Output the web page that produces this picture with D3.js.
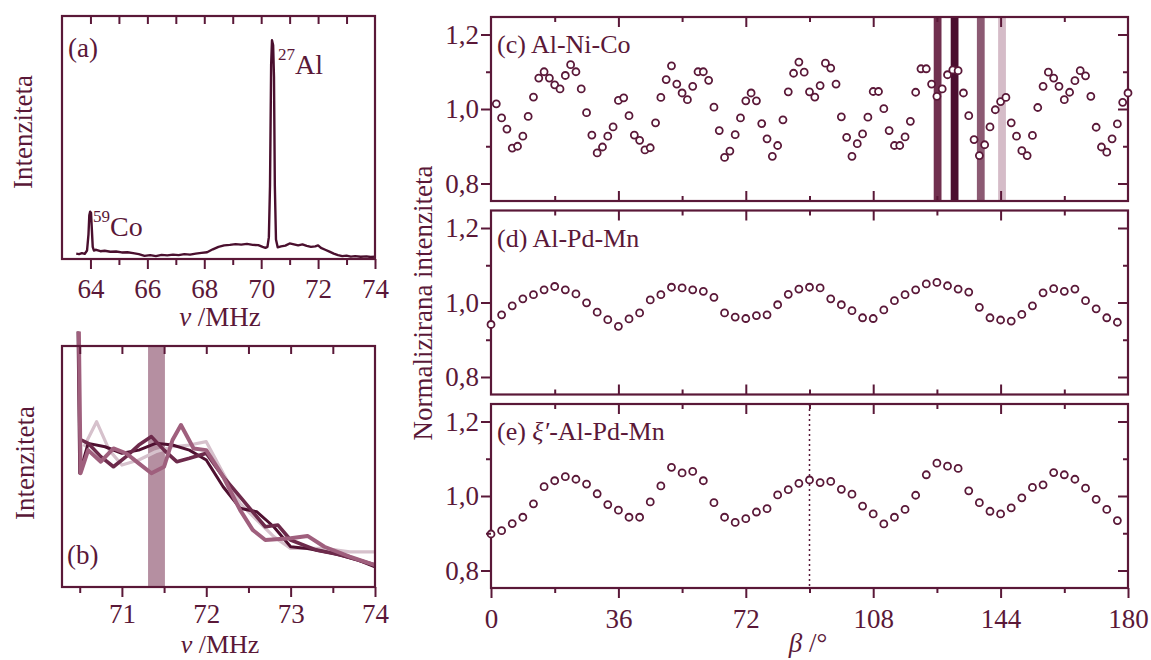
<!DOCTYPE html>
<html>
<head>
<meta charset="utf-8">
<script src="https://cdn.jsdelivr.net/npm/d3@7"></script>
<style>
body { margin: 0; background: #fff; }
text { font-family: "Liberation Serif", "Times New Roman", serif; fill: #5a1838; }
</style>
</head>
<body>
<svg id="fig" width="1151" height="660"></svg>
<script>
// ---- data ----

// (a) full spectrum, frequency in MHz / intensity (arb.)
var specFreq = [63.5,63.6,63.7,63.8,63.88,63.93,63.96,63.99,64.02,64.05,64.08,64.12,64.2,64.35,64.5,64.7,64.9,65.1,65.3,65.5,65.7,65.9,66.1,66.3,66.5,66.7,66.9,67.1,67.3,67.5,67.7,67.9,68.1,68.3,68.5,68.7,68.9,69.1,69.3,69.5,69.7,69.9,70.05,70.15,70.22,70.27,70.31,70.35,70.38,70.42,70.45,70.48,70.52,70.58,70.7,70.85,71.0,71.15,71.3,71.45,71.6,71.75,71.9,72.0,72.1,72.25,72.4,72.55,72.7,72.85,73.0,73.15,73.3,73.5,73.7,73.85,74.0];
var specInt = [0.022,0.020,0.024,0.021,0.035,0.10,0.18,0.195,0.19,0.12,0.05,0.035,0.038,0.032,0.034,0.030,0.031,0.027,0.028,0.024,0.020,0.013,0.016,0.012,0.017,0.015,0.018,0.016,0.020,0.018,0.022,0.025,0.028,0.040,0.050,0.056,0.058,0.061,0.059,0.062,0.058,0.057,0.050,0.046,0.05,0.09,0.30,0.80,0.90,0.88,0.75,0.30,0.08,0.048,0.052,0.055,0.064,0.060,0.056,0.060,0.054,0.050,0.052,0.056,0.046,0.038,0.030,0.022,0.016,0.012,0.014,0.010,0.012,0.009,0.011,0.008,0.010];

// (b) zoom of the Al line, four spectra [MHz, intensity]
var specB1 = [[70.55,0.582],[70.7,0.686],[70.85,0.568],[71.0,0.506],[71.2,0.527],[71.4,0.561],[71.6,0.582],[71.8,0.589],[72.0,0.603],[72.2,0.472],[72.4,0.347],[72.6,0.278],[72.8,0.209],[73.0,0.16],[73.4,0.16],[73.7,0.146],[74.0,0.146]];
var specB2 = [[70.48,1.06],[70.5,0.472],[70.6,0.596],[70.8,0.582],[71.0,0.555],[71.2,0.568],[71.4,0.596],[71.6,0.589],[71.8,0.568],[72.0,0.527],[72.2,0.416],[72.4,0.327],[72.6,0.312],[72.8,0.25],[73.0,0.167],[73.2,0.16],[73.5,0.14],[73.8,0.112],[74.0,0.084]];
var specB3 = [[70.52,0.61],[70.6,0.596],[70.75,0.541],[70.9,0.499],[71.05,0.541],[71.2,0.589],[71.35,0.624],[71.5,0.568],[71.65,0.52],[71.8,0.534],[72.0,0.555],[72.2,0.458],[72.4,0.375],[72.55,0.312],[72.7,0.25],[72.85,0.257],[73.0,0.195],[73.3,0.154],[73.6,0.133],[74.0,0.091]];
var specB4 = [[70.49,1.06],[70.51,0.472],[70.6,0.568],[70.75,0.52],[70.9,0.575],[71.05,0.555],[71.2,0.513],[71.35,0.472],[71.5,0.499],[71.6,0.61],[71.7,0.672],[71.85,0.575],[72.0,0.568],[72.2,0.458],[72.4,0.32],[72.55,0.237],[72.7,0.195],[73.0,0.202],[73.2,0.212],[73.4,0.167],[73.7,0.126],[74.0,0.091]];
var specBColors = ["#d6c1cc", "#4f1030", "#6d2a4b", "#9f5f7d"];
var specBWidths = [3.2, 3, 3.6, 4];
var bandB = [71.31, 71.51];

// (c) Al-Ni-Co
var betaC = [1.5,3,4.5,6,7.5,9,10.5,12,13.5,15,16.5,18,19.5,21,22.5,24,25.5,27,28.5,30,31.5,33,34.5,36,37.5,39,40.5,42,43.5,45,46.5,48,49.5,51,52.5,54,55.5,57,58.5,60,61.5,63,64.5,66,67.5,69,70.5,72,73.5,75,76.5,78,79.5,81,82.5,84,85.5,87,88.5,90,91.5,93,94.5,96,97.5,99,100.5,102,103.5,105,106.5,108,109.5,111,112.5,114,115.5,117,118.5,120,121.5,123,124.5,126,127.5,129,130.5,132,133.5,135,136.5,138,139.5,141,142.5,144,145.5,147,148.5,150,151.5,153,154.5,156,157.5,159,160.5,162,163.5,165,166.5,168,169.5,171,172.5,174,175.5,177,178.5,180];
var normC = [1.014,0.976,0.946,0.895,0.900,0.927,0.980,1.032,1.083,1.100,1.083,1.065,1.054,1.090,1.119,1.100,1.054,0.990,0.930,0.882,0.898,0.927,0.952,1.023,1.030,0.982,0.930,0.916,0.890,0.896,0.963,1.031,1.079,1.116,1.067,1.043,1.025,1.061,1.100,1.100,1.077,1.005,0.942,0.870,0.887,0.931,0.976,1.022,1.043,1.022,0.961,0.920,0.873,0.902,0.971,1.046,1.096,1.126,1.099,1.046,1.032,1.063,1.123,1.110,1.067,0.979,0.924,0.873,0.907,0.933,0.978,1.047,1.047,1.001,0.942,0.902,0.902,0.925,0.967,1.045,1.108,1.108,1.067,1.034,1.054,1.092,1.105,1.103,1.043,0.982,0.918,0.875,0.904,0.952,0.998,1.020,1.031,0.963,0.927,0.888,0.875,0.929,1.004,1.061,1.099,1.083,1.061,1.025,1.045,1.076,1.103,1.089,1.034,0.951,0.898,0.884,0.920,0.960,1.018,1.043];
var barCenters = [126.2, 131.0, 138.4, 144.4];
var barColors = ["#70304f", "#4b0e2f", "#8c5a73", "#d5bcc8"];
var barWidth = 2.2;

// (d) Al-Pd-Mn and (e) xi'-Al-Pd-Mn
var betaDE = [0,3,6,9,12,15,18,21,24,27,30,33,36,39,42,45,48,51,54,57,60,63,66,69,72,75,78,81,84,87,90,93,96,99,102,105,108,111,114,117,120,123,126,129,132,135,138,141,144,147,150,153,156,159,162,165,168,171,174,177];
var normD = [0.941,0.967,0.991,1.010,1.021,1.034,1.043,1.034,1.023,0.999,0.974,0.954,0.936,0.956,0.972,1.007,1.021,1.041,1.039,1.034,1.030,1.014,0.972,0.961,0.957,0.965,0.967,0.994,1.022,1.036,1.041,1.039,1.010,0.994,0.978,0.959,0.957,0.980,1.005,1.021,1.034,1.050,1.054,1.045,1.036,1.028,0.987,0.959,0.953,0.950,0.968,0.991,1.026,1.037,1.030,1.036,1.005,0.983,0.959,0.947];
var normE = [0.898,0.907,0.926,0.943,0.979,1.025,1.041,1.052,1.045,1.032,1.006,0.977,0.962,0.943,0.943,0.984,1.027,1.077,1.062,1.066,1.041,0.982,0.943,0.929,0.939,0.957,0.966,1.003,1.017,1.034,1.043,1.036,1.039,1.018,1.005,0.973,0.952,0.925,0.943,0.964,1.002,1.057,1.088,1.080,1.074,1.014,0.982,0.959,0.952,0.968,0.995,1.023,1.030,1.063,1.057,1.045,1.021,0.991,0.964,0.934];
var markBeta = 90;

// ---- drawing ----
var ink = "#5a1838";
var fs = 27;
var svg = d3.select("#fig");

function side(g, make, scale, vals, size, fmt, pad) {
	g.call(make(scale)
		.tickValues(vals)
		.tickSizeInner(size)
		.tickSizeOuter(0)
		.tickPadding(pad || 3)
		.tickFormat(fmt || function() { return ""; }));
	g.select(".domain").remove();
	g.attr("font-family", null).attr("font-size", fs);
	g.selectAll(".tick line").attr("stroke", ink).attr("stroke-width", 2);
	g.selectAll(".tick text").attr("fill", ink);
}

function frame(x0, y0, x1, y1) {
	svg.append("rect")
		.attr("x", x0).attr("y", y0)
		.attr("width", x1 - x0).attr("height", y1 - y0)
		.attr("fill", "none")
		.attr("stroke", ink)
		.attr("stroke-width", 2.2);
}

var fmtInt = function(d) { return d; };
var fmtComma = function(d) { return d.toFixed(1).replace(".", ","); };

function nuLabel(x, y, size) {
	var t = svg.append("text").attr("x", x).attr("y", y)
		.attr("text-anchor", "middle").attr("font-size", size);
	t.append("tspan").attr("font-style", "italic").text("ν");
	t.append("tspan").text(" /MHz");
}

function yLabel(x, y, txt) {
	svg.append("text")
		.attr("transform", "translate(" + x + "," + y + ") rotate(-90)")
		.attr("text-anchor", "middle")
		.attr("dy", "0.35em")
		.attr("font-size", fs)
		.text(txt);
}

// panel (a)
var xa = d3.scaleLinear().domain([63, 74]).range([62, 375]);
var ya = d3.scaleLinear().domain([0, 1]).range([259, 16]);

svg.append("path")
	.datum(d3.zip(specFreq, specInt))
	.attr("d", d3.line().x(function(d) { return xa(d[0]); }).y(function(d) { return ya(d[1]); }))
	.attr("fill", "none")
	.attr("stroke", "#4a0f2e")
	.attr("stroke-width", 2.4)
	.attr("stroke-linejoin", "round");

frame(62, 16, 375, 259);
side(svg.append("g").attr("transform", "translate(0,16)"), d3.axisTop, xa, [64,65,66,67,68,69,70,71,72,73], -8);
side(svg.append("g").attr("transform", "translate(0,259)"), d3.axisBottom, xa, [65,67,69,71,73], 6);
side(svg.append("g").attr("transform", "translate(0,259)"), d3.axisBottom, xa, [64,66,68,70,72,74], 10, fmtInt, 10);

svg.append("text").attr("x", 68).attr("y", 57).attr("font-size", 27).text("(a)");
var al = svg.append("text").attr("x", 278).attr("y", 74).attr("font-size", 28);
al.append("tspan").attr("font-size", 17).attr("dy", -14).text("27");
al.append("tspan").attr("dy", 14).text("Al");
var co = svg.append("text").attr("x", 93).attr("y", 236).attr("font-size", 28);
co.append("tspan").attr("font-size", 17).attr("dy", -14).text("59");
co.append("tspan").attr("dy", 14).text("Co");

yLabel(23, 132, "Intenziteta");
nuLabel(220, 326, fs);

// panel (b)
var xb = d3.scaleLinear().domain([70.29, 74]).range([62, 375]);
var yb = d3.scaleLinear().domain([0, 1]).range([587, 346]);

svg.append("rect")
	.attr("x", xb(bandB[0])).attr("y", 346)
	.attr("width", xb(bandB[1]) - xb(bandB[0])).attr("height", 241)
	.attr("fill", "#b58fa1");

var lineB = d3.line().x(function(d) { return xb(d[0]); }).y(function(d) { return yb(d[1]); });
[specB1, specB2, specB3, specB4].forEach(function(s, i) {
	svg.append("path")
		.datum(s)
		.attr("d", lineB)
		.attr("fill", "none")
		.attr("stroke", specBColors[i])
		.attr("stroke-width", specBWidths[i])
		.attr("stroke-linejoin", "round");
});

frame(62, 346, 375, 587);
side(svg.append("g").attr("transform", "translate(0,346)"), d3.axisTop, xb, [70.5,71,71.5,72,72.5,73,73.5], -8);
side(svg.append("g").attr("transform", "translate(0,587)"), d3.axisBottom, xb, [70.5,71.5,72.5,73.5], 6);
side(svg.append("g").attr("transform", "translate(0,587)"), d3.axisBottom, xb, [71,72,73,74], 10, fmtInt, 7);

svg.append("text").attr("x", 67).attr("y", 564).attr("font-size", 27).text("(b)");
yLabel(25, 463, "Intenziteta");
nuLabel(220, 653, 26);

// panels (c), (d), (e)
var xr = d3.scaleLinear().domain([0, 180]).range([491, 1128]);
var ph = 184;
var panels = [
	{ top: 17, xs: betaC, ys: normC, tag: "(c) ", name: "Al-Ni-Co" },
	{ top: 210.5, xs: betaDE, ys: normD, tag: "(d) ", name: "Al-Pd-Mn" },
	{ top: 404, xs: betaDE, ys: normE, tag: "(e) ", greek: "ξ′", name: "-Al-Pd-Mn" }
];

panels.forEach(function(p, k) {
	var y = d3.scaleLinear().domain([0.753, 1.247]).range([p.top + ph, p.top]);
	var bottom = p.top + ph;

	if (k === 0) {
		svg.selectAll(".bar")
			.data(barCenters)
			.enter().append("rect")
			.attr("x", function(d) { return xr(d - barWidth / 2); })
			.attr("y", p.top)
			.attr("width", xr(barWidth) - xr(0))
			.attr("height", ph)
			.attr("fill", function(d, i) { return barColors[i]; });
	}
	if (k === 2) {
		svg.append("line")
			.attr("x1", xr(markBeta)).attr("x2", xr(markBeta))
			.attr("y1", p.top).attr("y2", bottom)
			.attr("stroke", ink)
			.attr("stroke-width", 1.5)
			.attr("stroke-dasharray", "2,3");
	}

	frame(491, p.top, 1128, bottom);

	svg.append("g").selectAll("circle")
		.data(d3.zip(p.xs, p.ys))
		.enter().append("circle")
		.attr("cx", function(d) { return xr(d[0]); })
		.attr("cy", function(d) { return y(d[1]); })
		.attr("r", 3.5)
		.attr("fill", "#fff")
		.attr("stroke", ink)
		.attr("stroke-width", 1.8);

	side(svg.append("g").attr("transform", "translate(491,0)"), d3.axisLeft, y, [0.9, 1.1], 5);
	side(svg.append("g").attr("transform", "translate(491,0)"), d3.axisLeft, y, [0.8, 1.0, 1.2], 10, fmtComma, 2);
	side(svg.append("g").attr("transform", "translate(1128,0)"), d3.axisRight, y, [0.9, 1.1], -5);
	side(svg.append("g").attr("transform", "translate(1128,0)"), d3.axisRight, y, [0.8, 1.0, 1.2], -10);
	side(svg.append("g").attr("transform", "translate(0," + p.top + ")"), d3.axisTop, xr, [18, 54, 90, 126, 162], -5);
	side(svg.append("g").attr("transform", "translate(0," + p.top + ")"), d3.axisTop, xr, [36, 72, 108, 144], -10);
	if (k < 2) {
		side(svg.append("g").attr("transform", "translate(0," + bottom + ")"), d3.axisBottom, xr, [18, 54, 90, 126, 162], -5);
		side(svg.append("g").attr("transform", "translate(0," + bottom + ")"), d3.axisBottom, xr, [36, 72, 108, 144], -10);
	} else {
		side(svg.append("g").attr("transform", "translate(0," + bottom + ")"), d3.axisBottom, xr, [18, 54, 90, 126, 162], 5);
		side(svg.append("g").attr("transform", "translate(0," + bottom + ")"), d3.axisBottom, xr, [0, 36, 72, 108, 144, 180], 10, fmtInt, 11);
	}

	var t = svg.append("text").attr("x", 497).attr("y", p.top + 36).attr("font-size", 26);
	t.append("tspan").text(p.tag);
	if (p.greek) t.append("tspan").attr("font-style", "italic").text(p.greek);
	t.append("tspan").text(p.name);
});

yLabel(423, 303, "Normalizirana intenziteta");

var bl = svg.append("text").attr("x", 808).attr("y", 652).attr("text-anchor", "middle").attr("font-size", fs);
bl.append("tspan").attr("font-style", "italic").text("β");
bl.append("tspan").text(" /°");
</script>
</body>
</html>
